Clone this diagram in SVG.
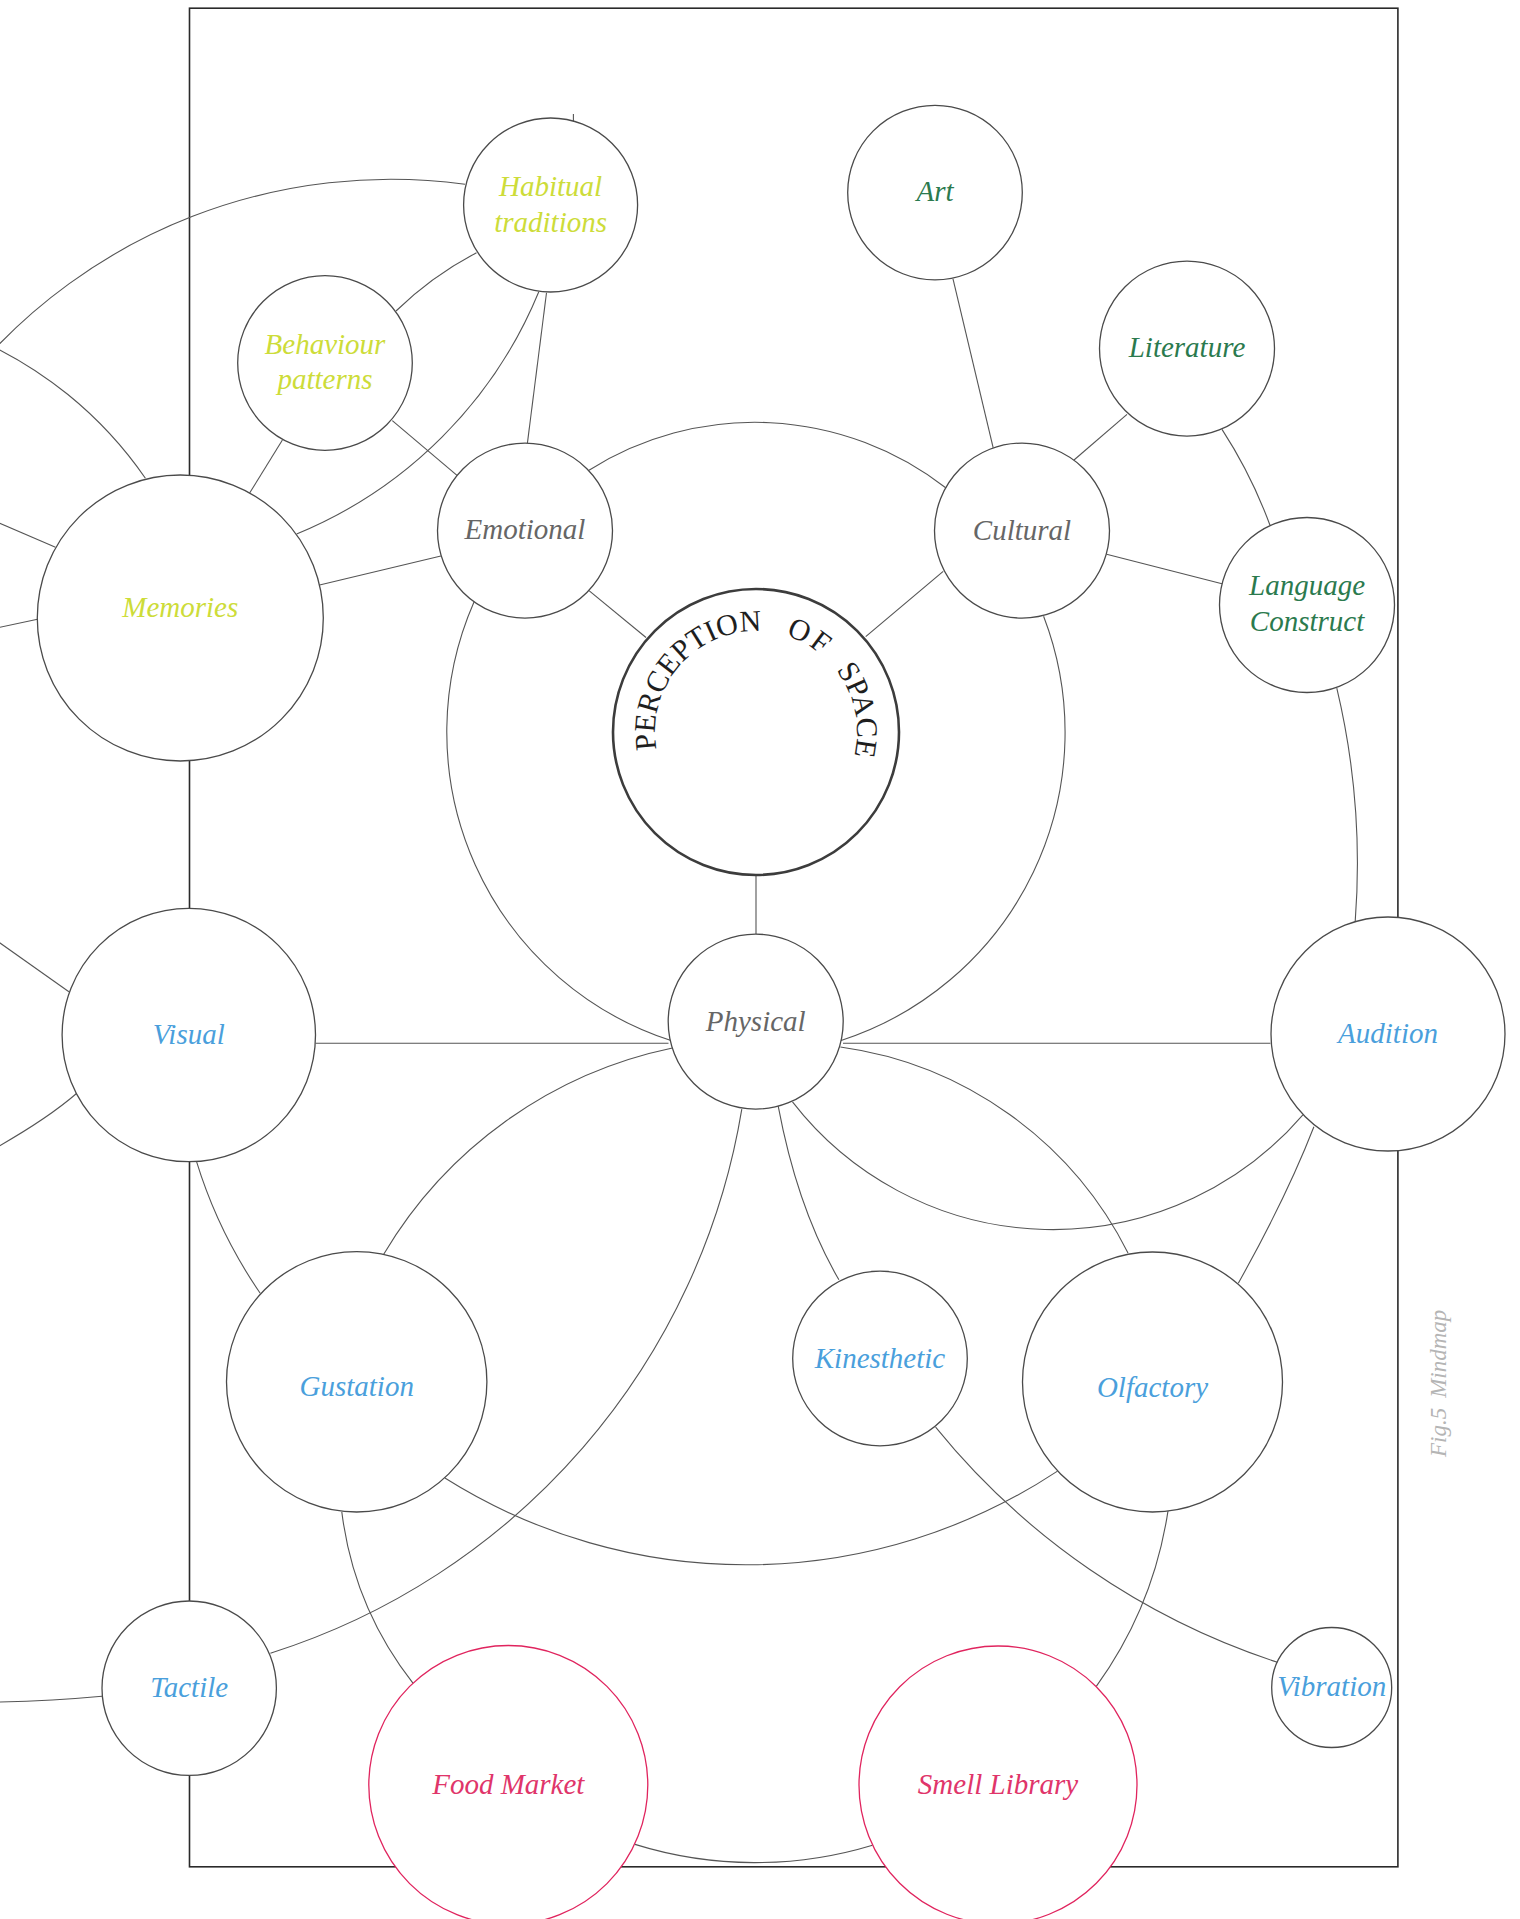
<svg xmlns="http://www.w3.org/2000/svg" width="1520" height="1919" viewBox="0 0 1520 1919">
<style>
.frame{fill:none;stroke:#2a2a2a;stroke-width:1.6}
.con path,.con line{fill:none;stroke:#555;stroke-width:1.1}
.node circle{fill:#fff;stroke:#4a4a4a;stroke-width:1.3}
.node.pink circle{stroke:#e0245e}
.lbl{font-family:"Liberation Serif","Times New Roman",serif;font-style:italic;font-size:29px;text-anchor:middle}
.lime{fill:#cddc39}
.green{fill:#2b7a4e}
.gray{fill:#666}
.blue{fill:#4a9fdc}
.pinkt{fill:#e0356a}
.title{font-family:"Liberation Serif","Times New Roman",serif;font-size:30px;fill:#1e1e1e}
.fig{font-family:"Liberation Serif","Times New Roman",serif;font-style:italic;font-size:23px;fill:#b5b5b5}
</style>
<defs>
<path id="pp" d="M 661.1 766.5 A 101 101 0 1 1 843.5 782.5"/>
</defs>
<rect class="frame" x="189.5" y="8.2" width="1208.4" height="1858.6"/>
<g id="connectors" class="con">
<path d="M -30 376.6 A 547 547 0 0 1 465 184.3"/>
<path d="M -30 336 A 401 401 0 0 1 145.4 478.3"/>
<path d="M -30 510.3 L 55.5 547.3"/>
<path d="M -30 633.7 L 37.5 619.3"/>
<path d="M 296.6 534 A 444.5 444.5 0 0 0 538.8 291.7"/>
<path d="M 396 311 Q 432 276 476.5 252.7"/>
<path d="M 282.4 440 L 249.5 493.3"/>
<path d="M 392.3 420.7 L 457.3 475.7"/>
<path d="M 527.4 443.3 L 546.5 292.7"/>
<path d="M 319.6 585 L 440.9 556"/>
<path d="M 573.4 114 L 573.4 122"/>
<path d="M 589 590.6 L 646 637.5"/>
<path d="M 865.7 636.7 L 943.2 571.4"/>
<path d="M 993.2 447.8 L 953 278.8"/>
<path d="M 1074 460 L 1127 414.3"/>
<path d="M 1106.6 554.3 L 1222 583.7"/>
<path d="M 1222 429.4 Q 1251.4 474.7 1270 525.3"/>
<path d="M 1336.8 688.2 A 759 759 0 0 1 1355.2 921.6"/>
<path d="M 589 470.2 A 311 311 0 0 1 945.7 487.8"/>
<path d="M 474 602 A 324.4 324.4 0 0 0 671 1040.6"/>
<path d="M 1043.6 616.3 A 324 324 0 0 1 840.4 1040.7"/>
<path d="M 756 875 L 756 934.4"/>
<path d="M -30 921.8 L 68.9 991.8"/>
<path d="M 76.5 1093.5 Q 40 1125 -30 1162"/>
<path d="M 315.6 1043.3 L 668.5 1043.3"/>
<path d="M 843 1043.3 L 1270.4 1043.3"/>
<path d="M 672.4 1048 A 440 440 0 0 0 383.7 1254.2"/>
<path d="M 196.4 1161.2 A 481 481 0 0 0 260.2 1293.2"/>
<path d="M 741.8 1109.1 A 688 688 0 0 1 270.4 1653.2"/>
<path d="M 778.2 1106.2 Q 797.5 1208.8 838.9 1279.8"/>
<path d="M 840.4 1047 A 380 380 0 0 1 1128 1253"/>
<path d="M 792.5 1101.9 A 329.5 329.5 0 0 0 1302.9 1114.8"/>
<path d="M 1313.9 1126.8 Q 1286.7 1196.8 1238.3 1283.2"/>
<path d="M 444.9 1478 A 565 565 0 0 0 1057.5 1471.1"/>
<path d="M 341.8 1511.9 A 348 348 0 0 0 413.3 1683.6"/>
<path d="M 935.6 1427.1 A 734 734 0 0 0 1278 1662.5"/>
<path d="M 1168 1510.8 A 403 403 0 0 1 1096.3 1686.4"/>
<path d="M 635 1844.4 A 404.5 404.5 0 0 0 872.5 1845.2"/>
<path d="M -30 1702.5 Q 40 1702 102 1696.2"/>
</g>
<g id="habitual" class="node"><circle cx="550.6" cy="205" r="87"/><text class="lbl lime" x="550.6" y="196">Habitual</text><text class="lbl lime" x="550.6" y="232">traditions</text></g>
<g id="art" class="node"><circle cx="935" cy="192.6" r="87.3"/><text class="lbl green" x="935" y="201">Art</text></g>
<g id="literature" class="node"><circle cx="1187" cy="348.6" r="87.5"/><text class="lbl green" x="1187" y="357">Literature</text></g>
<g id="behaviour" class="node"><circle cx="325" cy="363" r="87.3"/><text class="lbl lime" x="325" y="354">Behaviour</text><text class="lbl lime" x="325" y="389">patterns</text></g>
<g id="emotional" class="node"><circle cx="525" cy="530.6" r="87.5"/><text class="lbl gray" x="525" y="538.5">Emotional</text></g>
<g id="cultural" class="node"><circle cx="1022" cy="530.6" r="87.5"/><text class="lbl gray" x="1022" y="539.5">Cultural</text></g>
<g id="language" class="node"><circle cx="1307" cy="605" r="87.5"/><text class="lbl green" x="1307" y="595">Language</text><text class="lbl green" x="1307" y="630.5">Construct</text></g>
<g id="memories" class="node"><circle cx="180.3" cy="618" r="143"/><text class="lbl lime" x="180.3" y="616.5">Memories</text></g>
<g id="perception" class="node"><circle cx="756" cy="732" r="143" style="stroke:#3c3c3c;stroke-width:2.6"/>
<text class="title"><textPath href="#pp" startOffset="17.6">PERCEPTION</textPath></text>
<text class="title"><textPath href="#pp" startOffset="223.7" letter-spacing="3">OF</textPath></text>
<text class="title"><textPath href="#pp" startOffset="285.9">SPACE</textPath></text>
</g>
<g id="physical" class="node"><circle cx="755.7" cy="1021.6" r="87.5"/><text class="lbl gray" x="755.7" y="1031">Physical</text></g>
<g id="visual" class="node"><circle cx="188.8" cy="1035" r="126.7"/><text class="lbl blue" x="188.8" y="1044">Visual</text></g>
<g id="audition" class="node"><circle cx="1388" cy="1034" r="117"/><text class="lbl blue" x="1388" y="1043">Audition</text></g>
<g id="gustation" class="node"><circle cx="356.7" cy="1381.8" r="130.2"/><text class="lbl blue" x="356.7" y="1396">Gustation</text></g>
<g id="kinesthetic" class="node"><circle cx="880" cy="1358.5" r="87.3"/><text class="lbl blue" x="880" y="1368">Kinesthetic</text></g>
<g id="olfactory" class="node"><circle cx="1152.5" cy="1382" r="130"/><text class="lbl blue" x="1152.5" y="1396.5">Olfactory</text></g>
<g id="tactile" class="node"><circle cx="189.2" cy="1688.2" r="87.2"/><text class="lbl blue" x="189.2" y="1696.5">Tactile</text></g>
<g id="vibration" class="node"><circle cx="1331.7" cy="1687.5" r="60"/><text class="lbl blue" x="1331.7" y="1696">Vibration</text></g>
<g id="foodmarket" class="node pink"><circle cx="508.3" cy="1785" r="139.5"/><text class="lbl pinkt" x="508.3" y="1794">Food Market</text></g>
<g id="smelllibrary" class="node pink"><circle cx="998" cy="1785" r="139"/><text class="lbl pinkt" x="998" y="1794">Smell Library</text></g>
<text class="fig" transform="translate(1446 1457) rotate(-90)">Fig.5<tspan dx="10">Mindmap</tspan></text>
</svg>
